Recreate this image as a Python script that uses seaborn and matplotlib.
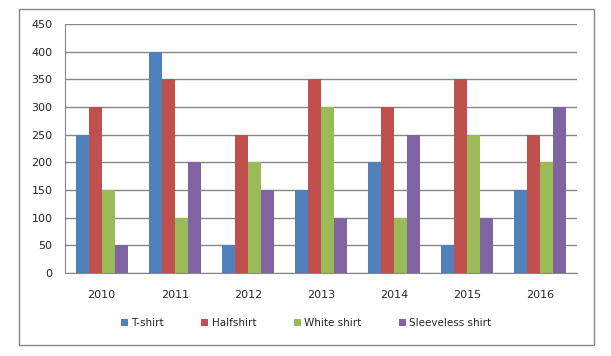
import pandas as pd
import matplotlib.pyplot as plt
import seaborn as sns
from matplotlib.patches import Rectangle

# --- datos ---
years = ['2010', '2011', '2012', '2013', '2014', '2015', '2016']
tshirt = [250, 400, 50, 150, 200, 50, 150]
halfshirt = [300, 350, 250, 350, 300, 350, 250]
white_shirt = [150, 100, 200, 300, 100, 250, 200]
sleeveless = [50, 200, 150, 100, 250, 100, 300]
series_names = ['T-shirt', 'Halfshirt', 'White shirt', 'Sleeveless shirt']
colors = ['#4F81BD', '#C0504D', '#9BBB59', '#8064A2']

rows = []
for name, vals in zip(series_names, [tshirt, halfshirt, white_shirt, sleeveless]):
    for y, v in zip(years, vals):
        rows.append({'year': y, 'value': v, 'series': name})
df = pd.DataFrame(rows)

sns.set_style('white')
plt.rcParams['font.family'] = ['DejaVu Sans']

fig = plt.figure(figsize=(6.11, 3.56), dpi=100)
ax = fig.add_axes([65 / 611, 83 / 356, 512 / 611, 249 / 356])

sns.barplot(data=df, x='year', y='value', hue='series', palette=colors,
            width=0.71, gap=0, saturation=1, linewidth=0, ax=ax, legend=True)

# --- ejes y cuadricula (la cuadricula queda detras de las barras) ---
ax.set_ylim(0, 450)
ax.set_yticks(range(0, 451, 50))
ax.set_xlim(-0.5, len(years) - 0.5)
ax.yaxis.grid(True, color='#868686', linewidth=1)
ax.set_axisbelow(True)
for p in ax.patches:
    p.set_zorder(3)
ax.set_xlabel('')
ax.set_ylabel('')
for s in ['top', 'right']:
    ax.spines[s].set_visible(False)
ax.spines['left'].set_color('#868686')
ax.spines['bottom'].set_color('#868686')
ax.spines['left'].set_zorder(4)
ax.spines['bottom'].set_zorder(4)
ax.tick_params(axis='y', length=0, labelsize=8, pad=9)
ax.tick_params(axis='x', length=0, labelsize=8, pad=12)
ax.set_xticks([i - 0.5 for i in range(len(years) + 1)], minor=True)
ax.tick_params(axis='x', which='minor', length=4, color='#868686', direction='out')

# --- leyenda abajo, centrada en el recuadro ---
ax.legend(loc='center', bbox_to_anchor=(306 / 611, (356 - 323) / 356),
          bbox_transform=fig.transFigure, ncol=4,
          frameon=False, fontsize=7.5, handlelength=0.7, handleheight=0.7,
          handletextpad=0.3, columnspacing=3.6)

# --- borde del grafico ---
fig.patches.append(Rectangle((19 / 611, 11 / 356), 575 / 611, 336 / 356,
                             transform=fig.transFigure, fill=False,
                             edgecolor='#868686', linewidth=1))

plt.savefig('out.png', dpi=100)
